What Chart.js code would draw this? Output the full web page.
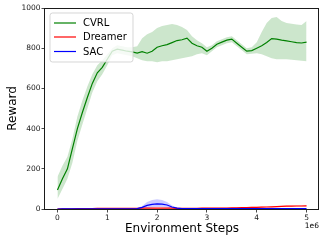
<!DOCTYPE html>
<html><head><meta charset="utf-8">
<script src="https://cdn.jsdelivr.net/npm/chart.js@4/dist/chart.umd.min.js"></script>
<style>html,body{margin:0;padding:0;background:#fff;}#wrap{width:320px;height:241px;}</style>
</head><body><div id="wrap"><canvas id="c" width="320" height="241"></canvas></div>
<script>
const steps = [0.0,0.1,0.2,0.3,0.4,0.5,0.6,0.7,0.8,0.9,
1.0,1.1,1.2,1.3,1.4,1.5,1.6,1.7,1.8,1.9,
2.0,2.1,2.2,2.3,2.4,2.5,2.6,2.7,2.8,2.9,
3.0,3.1,3.2,3.3,3.4,3.5,3.6,3.7,3.8,3.9,
4.0,4.1,4.2,4.3,4.4,4.5,4.6,4.7,4.8,4.9,5.0];
const cvrlMean = [95,150,200,300,400,480,555,625,678,705,
745,785,795,790,785,782,776,783,775,785,
805,812,818,828,838,842,850,825,812,805,
785,800,820,830,840,845,825,805,785,788,
800,812,828,848,845,840,836,832,828,826,830];
const cvrlLow = [50,100,150,230,340,420,500,580,635,670,
715,765,775,770,765,760,750,740,735,735,
730,735,735,740,745,750,755,760,770,775,
765,785,805,815,825,830,810,790,770,772,
775,770,760,750,745,745,745,742,740,738,735];
const cvrlHigh = [160,215,260,350,460,540,610,670,715,740,
770,800,815,810,805,805,810,850,870,880,
900,910,915,920,915,905,890,860,840,825,
805,815,835,845,855,860,840,820,800,805,
830,880,925,950,955,935,925,922,918,915,935];
const dreamerMean = [0,1,1,1,2,2,2,2,3,3,
3,3,3,3,3,3,3,4,4,4,
4,4,4,4,3,3,3,3,3,4,
4,4,4,5,5,6,6,7,7,8,
8,9,10,11,12,13,14,14,15,15,16];
const dreamerLow = [0,0,0,0,0,0,0,0,1,1,
1,1,1,1,1,1,1,2,2,2,
2,2,2,2,1,1,1,1,1,2,
2,2,2,3,3,4,4,4,4,5,
5,6,7,8,9,10,10,11,11,11,12];
const dreamerHigh = [1,3,3,3,4,4,4,4,5,5,
5,5,5,5,5,5,5,6,6,6,
6,6,6,6,5,5,5,5,5,6,
6,6,6,7,7,8,9,10,10,11,
11,12,13,14,15,16,17,18,19,19,20];
const sacMean = [0,1,1,1,1,1,1,1,1,1,
1,1,1,1,1,1,2,8,18,23,
25,24,20,10,4,2,2,2,2,2,
2,2,2,2,2,2,2,2,2,2,
2,2,2,2,2,2,2,2,2,2,2];
const sacLow = [0,0,0,0,0,0,0,0,0,0,
0,0,0,0,0,0,0,1,5,8,
10,9,7,3,1,0,0,0,0,0,
0,0,0,0,0,0,0,0,0,0,
0,0,0,0,0,0,0,0,0,0,0];
const sacHigh = [1,2,2,2,2,2,2,2,2,2,
2,2,2,2,2,2,4,15,35,45,
48,45,35,18,7,4,4,4,4,4,
4,4,4,4,4,4,4,4,4,4,
4,4,4,4,4,4,4,4,4,4,4];
const xTicks = [0,1,2,3,4,5];
const yTicks = [0,200,400,600,800,1000];
const seriesNames = ['CVRL','Dreamer','SAC'];
const seriesColors = ['#008000','#ff0000','#0000ff'];
const bandColors = ['rgba(0,128,0,0.2)','rgba(255,0,0,0.2)','rgba(0,0,255,0.2)'];
const xTitle = 'Environment Steps';
const yTitle = 'Reward';
const xOffsetText = '1e6';

const pts = arr => steps.map((x,i)=>({x:x, y:arr[i]}));
const FONT = '"DejaVu Sans", sans-serif';

function lineDs(arr, k){
  return {data: pts(arr), borderColor: seriesColors[k], borderWidth: 1.2, pointRadius: 0, fill: false, tension: 0};
}
function bandDs(arr, k, fillTo){
  return {data: pts(arr), borderWidth: 0, borderColor: 'rgba(0,0,0,0)', backgroundColor: bandColors[k], pointRadius: 0, fill: fillTo, tension: 0};
}

const datasets = [
  lineDs(sacMean,2), lineDs(dreamerMean,1), lineDs(cvrlMean,0),
  bandDs(sacHigh,2,'+1'), bandDs(sacLow,2,false),
  bandDs(dreamerHigh,1,'+1'), bandDs(dreamerLow,1,false),
  bandDs(cvrlHigh,0,'+1'), bandDs(cvrlLow,0,false)
];

const overlay = {
  id: 'overlay',
  afterDraw(chart){
    const ctx = chart.ctx, a = chart.chartArea;
    ctx.save();
    // spines
    ctx.strokeStyle = '#1a1a1a'; ctx.lineWidth = 1;
    ctx.strokeRect(Math.round(a.left)-0.5, Math.round(a.top)+0.5, Math.round(a.right-a.left), Math.round(a.bottom-a.top));
    // legend
    const lx=50, ly=13, lw=83, lh=49, r=2.5;
    ctx.beginPath();
    ctx.moveTo(lx+r,ly); ctx.lineTo(lx+lw-r,ly); ctx.arcTo(lx+lw,ly,lx+lw,ly+r,r);
    ctx.lineTo(lx+lw,ly+lh-r); ctx.arcTo(lx+lw,ly+lh,lx+lw-r,ly+lh,r);
    ctx.lineTo(lx+r,ly+lh); ctx.arcTo(lx,ly+lh,lx,ly+lh-r,r);
    ctx.lineTo(lx,ly+r); ctx.arcTo(lx,ly,lx+r,ly,r); ctx.closePath();
    ctx.fillStyle='rgba(255,255,255,0.8)'; ctx.fill();
    ctx.strokeStyle='rgba(204,204,204,0.8)'; ctx.lineWidth=1; ctx.stroke();
    const rows=[23,37,51.5];
    ctx.font = '10px ' + FONT; ctx.textBaseline='middle'; ctx.textAlign='left';
    seriesNames.forEach((n,i)=>{
      ctx.strokeStyle = seriesColors[i]; ctx.lineWidth=1.2;
      ctx.beginPath(); ctx.moveTo(54,rows[i]); ctx.lineTo(76,rows[i]); ctx.stroke();
      ctx.fillStyle='#000'; ctx.fillText(n, 83, rows[i]+0.5);
    });
    // axis titles
    ctx.fillStyle='#000';
    ctx.font='12px ' + FONT; ctx.textAlign='center'; ctx.textBaseline='middle';
    ctx.fillText(xTitle, (a.left+a.right)/2, 229);
    ctx.save(); ctx.translate(12.5,(a.top+a.bottom)/2); ctx.rotate(-Math.PI/2);
    ctx.fillText(yTitle, 0, 0); ctx.restore();
    ctx.font='7.5px ' + FONT; ctx.textAlign='right';
    ctx.fillText(xOffsetText, 319, 226);
    ctx.restore();
  }
};

new Chart(document.getElementById('c'), {
  type: 'line',
  data: { datasets },
  options: {
    responsive: false, animation: false, devicePixelRatio: 1,
    layout: { padding: {left:0, right:1, top:8, bottom:0} },
    plugins: { legend: {display:false}, tooltip: {enabled:false}, filler: {propagate:false} },
    scales: {
      x: {
        type: 'linear', min: -0.25, max: 5.25,
        afterBuildTicks: s => { s.ticks = xTicks.map(v=>({value:v})); },
        afterFit: s => { s.height = 32; },
        grid: { drawOnChartArea: false, drawTicks: true, tickLength: 3.5, color: '#1a1a1a', lineWidth: 0.8 },
        border: { display: false },
        ticks: { font: {family: FONT, size: 7.5}, color: '#1a1a1a', padding: 1.5, maxRotation: 0, autoSkip: false, callback: v => String(v) }
      },
      y: {
        type: 'linear', min: 0, max: 1000,
        afterBuildTicks: s => { s.ticks = yTicks.map(v=>({value:v})); },
        afterFit: s => { s.width = 45; },
        grid: { drawOnChartArea: false, drawTicks: true, tickLength: 3.5, color: '#1a1a1a', lineWidth: 0.8 },
        border: { display: false },
        ticks: { font: {family: FONT, size: 7.5}, color: '#1a1a1a', padding: 1, autoSkip: false, callback: v => String(v) }
      }
    }
  },
  plugins: [overlay]
});
</script></body></html>
